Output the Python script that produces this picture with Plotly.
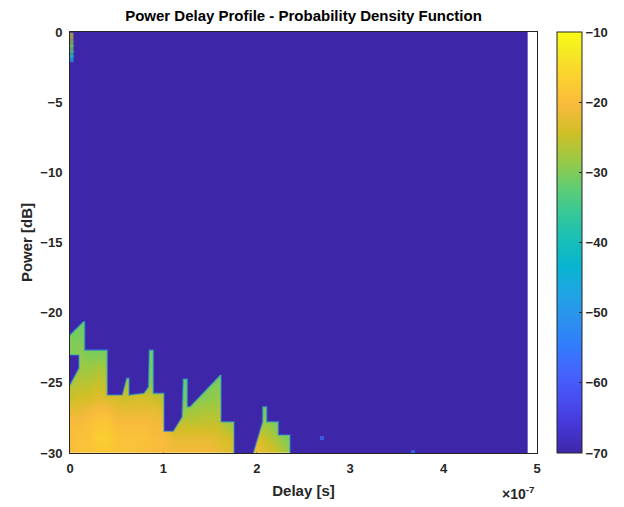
import plotly.graph_objects as go

# ---------------- data ----------------
DELAY_UNIT = 1e-7          # x axis is shown in units of 1e-7 s
DATA_END_E7 = 4.9          # last delay bin of the estimate
FLOOR_DB = -70             # pdf floor (colour-axis minimum)

# coarse pdf level grid [dB] inside the occupied region
level_delay_e7 = [0.0, 0.1, 0.2, 0.3, 0.4, 0.5, 0.6, 0.7, 0.8, 0.9, 1.0, 1.1, 1.2,
                  1.3, 1.4, 1.5, 1.6, 1.7, 1.8, 1.9, 2.0, 2.1, 2.2, 2.3, 2.4]
level_power_db = [-21, -22, -23, -24, -25, -26, -27, -28, -29, -30]
level_db = [
    [-31]*25,
    [-30, -30] + [-31]*23,
    [-30, -29, -30, -30, -30, -30, -30, -31, -31, -31] + [-31]*15,
    [-28, -28, -28, -27, -28, -29, -30, -30, -31, -31, -31, -31, -32, -32, -31, -31, -31, -31, -31, -31, -31, -31, -31, -31, -31],
    [-27, -26, -26, -25, -26, -27, -28, -28, -30, -30, -29, -30, -32, -31, -31, -30, -30, -30, -30, -30, -30, -30, -30, -30, -30],
    [-25, -24, -24, -23, -24, -24, -25, -24, -24, -25, -26, -28, -31, -30, -30, -29, -29, -29, -29, -29, -30, -30, -30, -30, -30],
    [-22, -22, -21, -20, -20, -22, -22, -22, -22, -22, -23, -26, -29, -28, -27, -27, -27, -28, -28, -28, -29, -31, -30, -30, -30],
    [-20, -20, -19, -18, -18, -20, -20, -20, -20, -21, -21, -26, -25, -25, -25, -25, -25, -28, -27, -26, -27, -28, -30, -30, -30],
    [-20, -19, -19, -17, -17, -19, -19, -19, -19, -20, -20, -22, -22, -22, -22, -22, -23, -24, -24, -23, -23, -25, -27, -30, -30],
    [-20, -19, -19, -18, -18, -19, -19, -19, -20, -20, -20, -21, -21, -21, -21, -21, -22, -23, -23, -22, -22, -23, -24, -27, -29],
]

# upper boundary of the occupied region (below it pdf > floor)
edge_delay_e7 = [0.0, 0.142, 0.157, 0.157, 0.399, 0.399, 0.56, 0.607, 0.632, 0.632,
                 0.792, 0.84, 0.849, 0.892, 0.892, 1.006, 1.006, 1.106, 1.2, 1.213,
                 1.256, 1.256, 1.285, 1.606, 1.617, 1.617, 1.756, 1.756, 1.963, 2.063,
                 2.063, 2.106, 2.106, 2.23, 2.23, 2.355, 2.355, 4.9]
edge_power_db = [-21.6, -20.65, -20.65, -22.67, -22.67, -25.87, -25.87, -24.68, -24.68, -25.87,
                 -25.75, -25.3, -22.67, -22.67, -25.75, -25.75, -28.45, -28.45, -27.44, -24.73,
                 -24.73, -26.7, -26.7, -24.45, -24.45, -27.78, -27.78, -30.0, -30.0, -27.78,
                 -26.7, -26.7, -27.78, -27.78, -28.72, -28.72, -30.0, -30.0]

# empty notch at the left edge
notch_delay_e7 = [0.0, 0.096, 0.096, 0.0]
notch_power_db = [-23.02, -23.02, -23.95, -25.16]

# isolated occupied bins
spot_delay_e7 = [0.0, 0.0, 0.0, 0.0, 0.0, 2.698, 3.672]
spot_power_db = [-0.3, -0.8, -1.2, -1.6, -1.9, -28.94, -29.94]
spot_level_db = [-26, -29, -31, -36, -46, -56, -56]

# colour bar ticks
cbar_ticks = [-70, -60, -50, -40, -30, -20, -10]
x_ticks_e7 = [0, 1, 2, 3, 4, 5]
y_ticks = [-30, -25, -20, -15, -10, -5, 0]

# parula colormap
parula_idx = [0, 4, 8, 12, 16, 20, 24, 28, 32, 36, 40, 44, 48, 52, 56, 60, 63]
parula_rgb = [(0.2422, 0.1504, 0.6603), (0.2706, 0.2147, 0.8364), (0.2813, 0.3006, 0.9414),
              (0.2699, 0.3892, 0.9906), (0.1963, 0.4847, 0.9892), (0.1687, 0.5703, 0.9359),
              (0.1248, 0.6459, 0.8883), (0.0297, 0.7082, 0.8163), (0.0964, 0.7500, 0.7120),
              (0.2161, 0.7843, 0.5923), (0.3909, 0.8029, 0.4354), (0.6174, 0.7876, 0.2612),
              (0.8203, 0.7498, 0.1535), (0.9728, 0.7298, 0.2394), (0.9892, 0.8136, 0.1885),
              (0.9597, 0.9135, 0.1423), (0.9769, 0.9839, 0.0805)]

# ---------------- figure ----------------
def rgb(c):
    return "rgb(%d,%d,%d)" % tuple(round(v * 255) for v in c)

colorscale = [[i / 63, rgb(c)] for i, c in zip(parula_idx, parula_rgb)]
floor_color = rgb(parula_rgb[0])

FONT = "Liberation Sans, Arial, Helvetica, sans-serif"
TXT = "#262626"

fig = go.Figure()

fig.add_trace(go.Heatmap(
    x=[d * DELAY_UNIT for d in level_delay_e7],
    y=level_power_db[::-1],
    z=level_db[::-1],
    zsmooth="best",
    coloraxis="coloraxis",
    hoverinfo="skip",
))

mask_x = [0.0] + edge_delay_e7 + [DATA_END_E7, 0.0, None] + notch_delay_e7
mask_y = [0.0] + edge_power_db + [0.0, 0.0, None] + notch_power_db
fig.add_trace(go.Scatter(
    x=[None if v is None else v * DELAY_UNIT for v in mask_x],
    y=mask_y,
    mode="lines",
    fill="toself",
    fillcolor=floor_color,
    line=dict(width=0, color=floor_color),
    hoverinfo="skip",
    showlegend=False,
))

# soft transition along the boundary (skip the parts lying on the bottom edge)
bx, by = [], []
for i in range(len(edge_delay_e7)):
    if i > 0 and edge_power_db[i] == -30.0 and edge_power_db[i - 1] == -30.0:
        bx.append(None)
        by.append(None)
    bx.append(edge_delay_e7[i] * DELAY_UNIT)
    by.append(edge_power_db[i])
bx += [None] + [d * DELAY_UNIT for d in notch_delay_e7]
by += [None] + notch_power_db
fig.add_trace(go.Scatter(
    x=bx, y=by, mode="lines",
    line=dict(width=1.6, color="rgba(40,150,215,0.55)"),
    hoverinfo="skip", showlegend=False,
))

fig.add_trace(go.Scatter(
    x=[d * DELAY_UNIT for d in spot_delay_e7],
    y=spot_power_db,
    mode="markers",
    marker=dict(symbol="square", size=[7, 7, 7, 7, 7, 4, 4],
                color=spot_level_db, coloraxis="coloraxis", line=dict(width=0)),
    hoverinfo="skip",
    showlegend=False,
))

tickfont = dict(family=FONT, size=13, color=TXT, weight="bold")

fig.update_layout(
    width=624, height=507,
    margin=dict(l=70, r=87, t=32, b=54),
    paper_bgcolor="white", plot_bgcolor="white",
    showlegend=False,
    title=dict(text="Power Delay Profile - Probability Density Function",
               font=dict(family=FONT, size=15, color="black", weight="bold"),
               x=(70 + 537) / 2 / 624, xanchor="center",
               y=1 - 16 / 507, yanchor="middle"),
    coloraxis=dict(
        colorscale=colorscale, cmin=FLOOR_DB, cmax=-10,
        colorbar=dict(
            x=1 + 20 / 467, xanchor="left", xpad=0,
            y=0.5, yanchor="middle", len=1, lenmode="fraction", ypad=0,
            thickness=25, thicknessmode="pixels",
            outlinewidth=1, outlinecolor=TXT,
            tickvals=cbar_ticks, ticks="inside", ticklen=3, tickcolor=TXT,
            tickfont=tickfont,
        ),
    ),
    xaxis=dict(
        range=[0, 5 * DELAY_UNIT],
        tickvals=[t * DELAY_UNIT for t in x_ticks_e7],
        ticktext=[str(t) for t in x_ticks_e7],
        ticks="inside", ticklen=5, tickcolor=TXT, tickfont=tickfont,
        ticklabelstandoff=3,
        showline=True, mirror=True, linecolor=TXT, linewidth=1,
        showgrid=False, zeroline=False, layer="below traces",
        title=dict(text="Delay [s]", font=dict(family=FONT, size=15, color=TXT, weight="bold"),
                   standoff=10),
    ),
    yaxis=dict(
        range=[-30, 0],
        tickvals=y_ticks,
        ticks="inside", ticklen=5, tickcolor=TXT, tickfont=tickfont,
        ticklabelstandoff=4,
        showline=True, mirror=True, linecolor=TXT, linewidth=1,
        showgrid=False, zeroline=False, layer="below traces",
        title=dict(text="Power [dB]", font=dict(family=FONT, size=15, color=TXT, weight="bold"),
                   standoff=4),
    ),
    annotations=[dict(
        text="\u00d710<sup>-7</sup>", xref="paper", yref="paper",
        x=1.0, y=-0.095, xanchor="right", yanchor="middle", showarrow=False,
        font=dict(family=FONT, size=14, color=TXT, weight="bold"),
    )],
)

fig.write_html("out.html")
